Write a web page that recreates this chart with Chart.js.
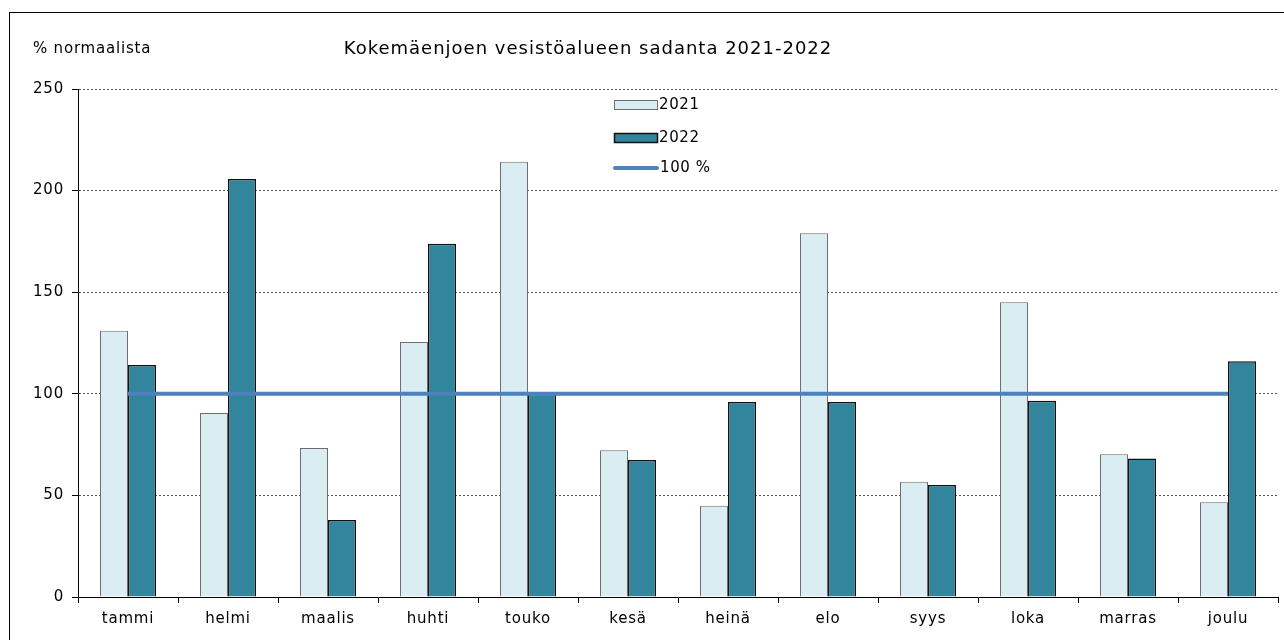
<!DOCTYPE html>
<html>
<head>
<meta charset="utf-8">
<script src="https://cdn.jsdelivr.net/npm/chart.js@4.4.1/dist/chart.umd.min.js"></script>
<style>
  html, body { margin: 0; padding: 0; background: #fff; }
  #wrap { width: 1284px; height: 640px; }
</style>
</head>
<body>
<div id="wrap"><canvas id="chart" width="1284" height="640"></canvas></div>
<script>
// Kokemäenjoen sadanta, % normaalista
const months = ['tammi', 'helmi', 'maalis', 'huhti', 'touko', 'kesä', 'heinä', 'elo', 'syys', 'loka', 'marras', 'joulu'];
const values2021 = [131, 90.5, 73.3, 125.5, 214.2, 72.2, 44.9, 179, 56.7, 145, 70.2, 46.6];
const values2022 = [114.2, 205.7, 37.9, 173.9, 100, 67.4, 96, 96, 55.1, 96.6, 68.2, 116];
const normalLevel = [100, 100, 100, 100, 100, 100, 100, 100, 100, 100, 100, 100];
const yTicks = [0, 50, 100, 150, 200, 250];

const FONT = '"DejaVu Sans", sans-serif';
const TEXT = '#000';
const FILL_2021 = '#daedf3';
const FILL_2022 = '#31859c';
const LINE_100 = '#4f81bd';

// Title, unit label, frame and the small legend inside the plot
const decorations = {
  id: 'decorations',
  beforeDraw(chart) {
    const ctx = chart.ctx;
    // wider text, closer to the original's geometric face
    ctx.letterSpacing = '0.8px';
    ctx.save();
    ctx.strokeStyle = '#000';
    ctx.lineWidth = 1;
    ctx.strokeRect(9.5, 12.5, 1400, 700);
    ctx.restore();
  },
  afterDraw(chart) {
    const ctx = chart.ctx;
    ctx.save();
    ctx.fillStyle = TEXT;
    ctx.textBaseline = 'middle';
    ctx.letterSpacing = '0.8px';
    ctx.font = '15px ' + FONT;
    ctx.textAlign = 'left';
    ctx.fillText('% normaalista', 33, 49);
    ctx.letterSpacing = '1px';
    ctx.font = '18px ' + FONT;
    ctx.textAlign = 'center';
    ctx.fillText('Kokemäenjoen vesistöalueen sadanta 2021-2022', 588, 49);

    // legend
    const ds = chart.data.datasets;
    const rows = [105, 138, 168];
    ctx.letterSpacing = '0.6px';
    ctx.font = '15px ' + FONT;
    ctx.textAlign = 'left';
    ds.forEach((d, i) => {
      const y = rows[i];
      if (d.type === 'line') {
        ctx.strokeStyle = d.borderColor;
        ctx.lineWidth = 4;
        ctx.lineCap = 'round';
        ctx.beginPath();
        ctx.moveTo(615, y);
        ctx.lineTo(657, y);
        ctx.stroke();
        ctx.fillStyle = TEXT;
        ctx.fillText(d.label, 660, y);
      } else {
        ctx.fillStyle = d.backgroundColor;
        ctx.fillRect(614.5, y - 4.5, 43, 9);
        ctx.strokeStyle = d.borderColor;
        ctx.lineWidth = d.borderWidth;
        ctx.strokeRect(614.5, y - 4.5, 43, 9);
        ctx.fillStyle = TEXT;
        ctx.fillText(d.label, 659, y);
      }
    });
    ctx.restore();
  }
};

new Chart(document.getElementById('chart'), {
  type: 'bar',
  data: {
    labels: months,
    datasets: [
      {
        label: '2021',
        data: values2021,
        backgroundColor: FILL_2021,
        borderColor: '#6e6e6e',
        borderWidth: 1,
        order: 2
      },
      {
        label: '2022',
        data: values2022,
        backgroundColor: FILL_2022,
        borderColor: '#111',
        borderWidth: 1.5,
        order: 2
      },
      {
        type: 'line',
        label: '100 %',
        data: normalLevel,
        borderColor: LINE_100,
        backgroundColor: LINE_100,
        borderWidth: 4,
        pointRadius: 0,
        fill: false,
        order: 1
      }
    ]
  },
  options: {
    responsive: false,
    animation: false,
    layout: { padding: { top: 89, right: 6, left: 0, bottom: 0 } },
    datasets: { bar: { categoryPercentage: 0.56, barPercentage: 1 } },
    plugins: {
      legend: { display: false },
      title: { display: false },
      tooltip: { enabled: false }
    },
    scales: {
      x: {
        afterFit: s => { s.height = 43; },
        grid: { drawOnChartArea: false, drawTicks: true, tickLength: 6, color: '#000', offset: true },
        border: { color: '#000', width: 1 },
        ticks: { color: TEXT, font: { family: FONT, size: 15 }, padding: 7 }
      },
      y: {
        min: 0,
        max: 250,
        afterFit: s => { s.width = 78; },
        afterBuildTicks: s => { s.ticks = yTicks.map(v => ({ value: v })); },
        grid: { color: '#555', lineWidth: 1, tickLength: 6, tickColor: '#000' },
        border: { color: '#000', width: 1, dash: [2, 2] },
        ticks: { color: TEXT, font: { family: FONT, size: 15 }, padding: 8 }
      }
    }
  },
  plugins: [decorations]
});
</script>
</body>
</html>
